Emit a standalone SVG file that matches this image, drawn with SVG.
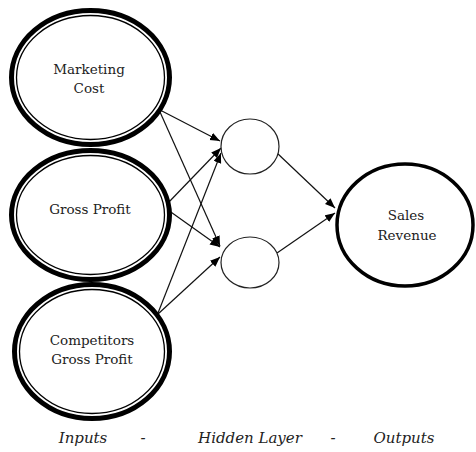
<svg xmlns="http://www.w3.org/2000/svg" width="476" height="452" viewBox="0 0 476 452">
<style>
  .thick { fill: #fff; stroke: #000; stroke-width: 5; }
  .thin { fill: none; stroke: #000; stroke-width: 1.3; }
  .hid { fill: #fff; stroke: #222; stroke-width: 1.2; }
  .out { fill: #fff; stroke: #000; stroke-width: 3.5; }
  .lbl { font-family: "DejaVu Serif", "Liberation Serif", serif; font-size: 13.5px; fill: #222; text-anchor: middle; }
  .cap { font-family: "DejaVu Serif", "Liberation Serif", serif; font-size: 15px; font-style: italic; fill: #222; text-anchor: middle; }
  .edge { stroke: #111; stroke-width: 1.2; fill: none; marker-end: url(#arr); }
</style>
<defs>
  <marker id="arr" markerUnits="userSpaceOnUse" markerWidth="11" markerHeight="9" refX="10" refY="4" orient="auto">
    <path d="M0,0 L10,4 L0,8 Z" fill="#000"/>
  </marker>
</defs>
<rect width="476" height="452" fill="#fff"/>
<g id="connectors">
  <line class="edge" x1="160" y1="110" x2="220" y2="141"/>
  <line class="edge" x1="160" y1="112" x2="220" y2="246"/>
  <line class="edge" x1="168" y1="203" x2="221" y2="148"/>
  <line class="edge" x1="168" y1="210" x2="220" y2="247"/>
  <line class="edge" x1="158" y1="313" x2="221" y2="153"/>
  <line class="edge" x1="158" y1="314" x2="220" y2="257"/>
  <line class="edge" x1="277" y1="153" x2="335" y2="208"/>
  <line class="edge" x1="277" y1="253" x2="335" y2="213"/>
</g>
<g id="marketing-cost">
  <ellipse class="thick" cx="90.5" cy="77.5" rx="79" ry="67"/>
  <ellipse class="thin" cx="90.5" cy="77.5" rx="74" ry="62"/>
  <text class="lbl" x="89" y="74">Marketing</text>
  <text class="lbl" x="89" y="93">Cost</text>
</g>
<g id="gross-profit">
  <ellipse class="thick" cx="90.5" cy="215" rx="79" ry="64.5"/>
  <ellipse class="thin" cx="90.5" cy="215" rx="74" ry="59.5"/>
  <text class="lbl" x="90" y="214">Gross Profit</text>
</g>
<g id="competitors-gross-profit">
  <ellipse class="thick" cx="92" cy="351.5" rx="77.5" ry="67"/>
  <ellipse class="thin" cx="92" cy="351.5" rx="72.5" ry="62"/>
  <text class="lbl" x="92" y="345">Competitors</text>
  <text class="lbl" x="92" y="364">Gross Profit</text>
</g>
<g id="hidden-1">
  <ellipse class="hid" cx="250" cy="146.5" rx="29" ry="27.5"/>
</g>
<g id="hidden-2">
  <ellipse class="hid" cx="250" cy="262.5" rx="29" ry="25.5"/>
</g>
<g id="sales-revenue">
  <ellipse class="out" cx="405" cy="225" rx="68" ry="61"/>
  <text class="lbl" x="406" y="220">Sales</text>
  <text class="lbl" x="407" y="240">Revenue</text>
</g>
<g id="captions">
  <text class="cap" x="83" y="443">Inputs</text>
  <text class="cap" x="143" y="443">-</text>
  <text class="cap" x="250" y="443">Hidden Layer</text>
  <text class="cap" x="333" y="443">-</text>
  <text class="cap" x="404" y="443">Outputs</text>
</g>
</svg>
